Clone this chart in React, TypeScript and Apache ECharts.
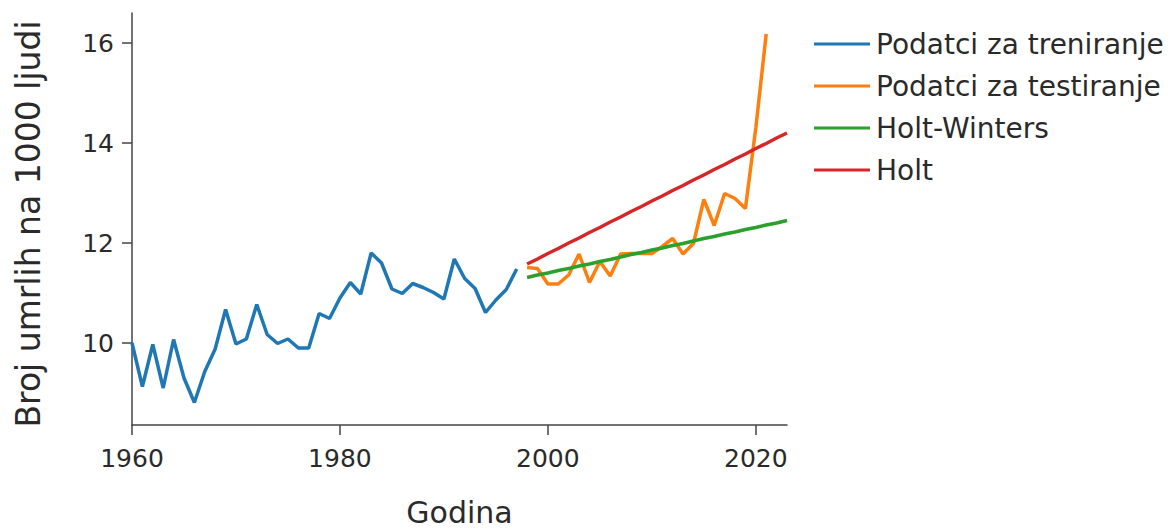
import React, { useEffect, useRef } from "react";
import * as echarts from "echarts";

const trainYears = [1960,1961,1962,1963,1964,1965,1966,1967,1968,1969,1970,1971,1972,1973,1974,1975,1976,1977,1978,1979,1980,1981,1982,1983,1984,1985,1986,1987,1988,1989,1990,1991,1992,1993,1994,1995,1996,1997];
const trainValues = [10.0,9.13,9.97,9.1,10.07,9.3,8.81,9.43,9.88,10.67,9.98,10.08,10.77,10.17,9.99,10.08,9.9,9.9,10.59,10.49,10.9,11.21,10.98,11.8,11.6,11.08,10.99,11.19,11.11,11.01,10.88,11.68,11.29,11.09,10.61,10.86,11.07,11.48];

const testYears = [1998,1999,2000,2001,2002,2003,2004,2005,2006,2007,2008,2009,2010,2011,2012,2013,2014,2015,2016,2017,2018,2019,2020,2021];
const testValues = [11.51,11.49,11.18,11.18,11.36,11.78,11.21,11.63,11.34,11.78,11.79,11.79,11.79,11.93,12.09,11.78,11.99,12.87,12.35,12.99,12.89,12.69,14.3,16.18];

const forecastYears = [1998,1999,2000,2001,2002,2003,2004,2005,2006,2007,2008,2009,2010,2011,2012,2013,2014,2015,2016,2017,2018,2019,2020,2021,2022,2023];
const holtWintersValues = [11.31,11.36,11.40,11.45,11.49,11.54,11.58,11.63,11.67,11.72,11.77,11.81,11.86,11.90,11.95,11.99,12.04,12.09,12.13,12.18,12.22,12.27,12.31,12.36,12.40,12.45];
const holtValues = [11.58,11.68,11.79,11.89,12.00,12.10,12.21,12.31,12.42,12.52,12.63,12.73,12.84,12.94,13.05,13.15,13.26,13.36,13.47,13.57,13.68,13.78,13.89,13.99,14.10,14.20];

const xTicks = [1960, 1980, 2000, 2020];
const yTicks = [10, 12, 14, 16];

const seriesNames = ["Podatci za treniranje", "Podatci za testiranje", "Holt-Winters", "Holt"];
const colors = ["#1f77b4", "#ff7f0e", "#2ca02c", "#d62728"];

const zip = (xs: number[], ys: number[]) => xs.map((x, i) => [x, ys[i]]);

export default function App() {
  const ref = useRef<HTMLDivElement>(null);
  useEffect(() => {
    if (!ref.current) return;
    const chart = echarts.init(ref.current, undefined, { renderer: "svg" });
    const font = "DejaVu Sans, Verdana, sans-serif";
    const textColor = "#2a2a2a";
    const axisLineColor = "#444";
    const datasets = [
      zip(trainYears, trainValues),
      zip(testYears, testValues),
      zip(forecastYears, holtWintersValues),
      zip(forecastYears, holtValues),
    ];
    chart.setOption({
      animation: false,
      backgroundColor: "#ffffff",
      color: colors,
      grid: { left: 132, right: 388, top: 13, bottom: 106, containLabel: false, outerBoundsMode: "none" },
      legend: {
        orient: "vertical",
        left: 809,
        top: 24,
        icon: "rect",
        itemWidth: 56,
        itemHeight: 3,
        itemGap: 12,
        data: seriesNames,
        textStyle: {
          fontFamily: font,
          fontSize: 28,
          color: textColor,
          lineHeight: 30,
          padding: [0, 0, 0, 1],
        },
      },
      xAxis: {
        type: "value",
        min: 1960,
        max: 2023,
        name: "Godina",
        nameLocation: "middle",
        nameGap: 74,
        nameTextStyle: { fontFamily: font, fontSize: 30, lineHeight: 26, color: textColor },
        splitLine: { show: false },
        axisLine: { show: true, onZero: false, lineStyle: { color: axisLineColor, width: 1.5 } },
        axisTick: { show: true, inside: false, length: 10, customValues: xTicks, lineStyle: { color: axisLineColor, width: 1.5 } },
        axisLabel: {
          customValues: xTicks,
          margin: 21,
          fontFamily: font,
          fontSize: 25,
          color: textColor,
          formatter: (v: number) => String(v),
        },
      },
      yAxis: {
        type: "value",
        min: 8.36,
        max: 16.6,
        name: "Broj umrlih na 1000 ljudi",
        nameLocation: "middle",
        nameGap: 87,
        nameTextStyle: { fontFamily: font, fontSize: 33, color: textColor, padding: [0, 10, 0, 0] },
        splitLine: { show: false },
        axisLine: { show: true, onZero: false, lineStyle: { color: axisLineColor, width: 1.5 } },
        axisTick: { show: true, inside: false, length: 10, customValues: yTicks, lineStyle: { color: axisLineColor, width: 1.5 } },
        axisLabel: {
          customValues: yTicks,
          margin: 18,
          fontFamily: font,
          fontSize: 25,
          color: textColor,
          formatter: (v: number) => String(v),
        },
      },
      series: seriesNames.map((name, i) => ({
        name,
        type: "line",
        data: datasets[i],
        symbol: "none",
        showSymbol: false,
        lineStyle: { width: 3.5, color: colors[i] },
        itemStyle: { color: colors[i] },
        z: i === 1 ? 2 : 3,
      })),
    });
    return () => chart.dispose();
  }, []);
  return (
    <div
      ref={ref}
      style={{ position: "fixed", left: 0, top: 0, width: 1175, height: 531, background: "#fff" }}
    />
  );
}
